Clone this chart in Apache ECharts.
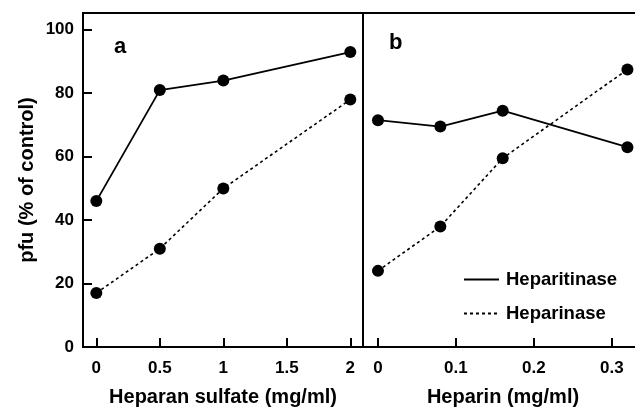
<!DOCTYPE html>
<html>
<head>
<meta charset="utf-8">
<script src="https://cdn.jsdelivr.net/npm/echarts@6/dist/echarts.min.js"></script>
<style>
html,body{margin:0;padding:0;background:#fff;}
#chart{width:635px;height:408px;}
</style>
</head>
<body>
<div id="chart"></div>
<script>
// ---- data ----
const aDose = [0, 0.5, 1, 2];                 // Heparan sulfate (mg/ml)
const aHeparitinase = [46, 81, 84, 93];
const aHeparinase = [17, 31, 50, 78];
const bDose = [0, 0.08, 0.16, 0.32];          // Heparin (mg/ml)
const bHeparitinase = [71.5, 69.5, 74.5, 63];
const bHeparinase = [24, 38, 59.5, 87.5];
const aTicks = [0, 0.5, 1, 1.5, 2];
const bTicks = [0, 0.1, 0.2, 0.3];
const yTicks = [0, 20, 40, 60, 80, 100];
const seriesNames = ['Heparitinase', 'Heparinase'];

const FONT = "'Liberation Sans', Arial, Helvetica, sans-serif";
const pair = (xs, ys) => xs.map((x, i) => [x, ys[i]]);

const A_MIN = -0.105, A_MAX = 2.1;
const B_MIN = -0.0192, B_MAX = 0.34;
const Y_MIN = 0, Y_MAX = 105.3;

const chart = echarts.init(document.getElementById('chart'), null, {renderer: 'canvas'});

const tickStyle = {show: true, inside: true, length: 9, lineStyle: {color: '#000', width: 2}};
const xAxisCommon = {
  type: 'value',
  axisLine: {show: true, onZero: false, lineStyle: {color: '#000', width: 2}},
  axisLabel: {color: '#000', fontFamily: FONT, fontWeight: 'bold', fontSize: 17, margin: 13},
  splitLine: {show: false},
  nameLocation: 'middle',
  nameGap: 40,
  nameTextStyle: {color: '#000', fontFamily: FONT, fontWeight: 'bold', fontSize: 20}
};

const solid = {color: '#000', width: 1.8, type: 'solid'};
const dotted = {color: '#000', width: 1.6, type: [3, 3]};

const option = {
  backgroundColor: '#fff',
  animation: false,
  grid: [
    {left: 83, width: 280, top: 13, bottom: 61, show: true, borderColor: '#000', borderWidth: 2,
      containLabel: false, outerBoundsMode: 'none'},
    {left: 363, width: 280, top: 13, bottom: 61, show: true, borderColor: '#000', borderWidth: 2,
      containLabel: false, outerBoundsMode: 'none'}
  ],
  xAxis: [
    Object.assign({}, xAxisCommon, {
      gridIndex: 0, min: A_MIN, max: A_MAX, name: 'Heparan sulfate (mg/ml)',
      axisTick: Object.assign({}, tickStyle, {customValues: aTicks}),
      axisLabel: Object.assign({}, xAxisCommon.axisLabel, {customValues: aTicks})
    }),
    Object.assign({}, xAxisCommon, {
      gridIndex: 1, min: B_MIN, max: B_MAX, name: 'Heparin (mg/ml)',
      axisTick: Object.assign({}, tickStyle, {customValues: bTicks}),
      axisLabel: Object.assign({}, xAxisCommon.axisLabel, {customValues: bTicks})
    })
  ],
  yAxis: [
    {
      type: 'value', gridIndex: 0, min: Y_MIN, max: Y_MAX,
      axisLine: {show: true, onZero: false, lineStyle: {color: '#000', width: 2}},
      axisTick: Object.assign({}, tickStyle, {customValues: yTicks}),
      axisLabel: {color: '#000', fontFamily: FONT, fontWeight: 'bold', fontSize: 17, margin: 9, customValues: yTicks},
      splitLine: {show: false},
      name: 'pfu (% of control)', nameLocation: 'middle', nameGap: 46,
      nameTextStyle: {color: '#000', fontFamily: FONT, fontWeight: 'bold', fontSize: 20}
    },
    {
      type: 'value', gridIndex: 1, min: Y_MIN, max: Y_MAX,
      axisLine: {show: true, onZero: false, lineStyle: {color: '#000', width: 2}},
      axisTick: {show: false}, axisLabel: {show: false}, splitLine: {show: false}
    }
  ],
  legend: {
    left: 458, top: 265, orient: 'vertical',
    itemWidth: 35, itemHeight: 20, itemGap: 15,
    data: seriesNames,
    itemStyle: {opacity: 0},
    textStyle: {color: '#000', fontFamily: FONT, fontWeight: 'bold', fontSize: 18.5, padding: [0, 0, 0, 2]},
    selectedMode: false
  },
  graphic: [
    {type: 'text', left: 114, top: 36, style: {text: 'a', fill: '#000', font: 'bold 22px ' + FONT}},
    {type: 'text', left: 389, top: 32, style: {text: 'b', fill: '#000', font: 'bold 22px ' + FONT}}
  ],
  series: [
    {name: seriesNames[0], type: 'line', xAxisIndex: 0, yAxisIndex: 0, data: pair(aDose, aHeparitinase),
      symbol: 'circle', symbolSize: 12, itemStyle: {color: '#000'}, lineStyle: solid},
    {name: seriesNames[1], type: 'line', xAxisIndex: 0, yAxisIndex: 0, data: pair(aDose, aHeparinase),
      symbol: 'circle', symbolSize: 12, itemStyle: {color: '#000'}, lineStyle: dotted},
    {name: seriesNames[0], type: 'line', xAxisIndex: 1, yAxisIndex: 1, data: pair(bDose, bHeparitinase),
      symbol: 'circle', symbolSize: 12, itemStyle: {color: '#000'}, lineStyle: solid},
    {name: seriesNames[1], type: 'line', xAxisIndex: 1, yAxisIndex: 1, data: pair(bDose, bHeparinase),
      symbol: 'circle', symbolSize: 12, itemStyle: {color: '#000'}, lineStyle: dotted}
  ]
};
chart.setOption(option);
</script>
</body>
</html>
